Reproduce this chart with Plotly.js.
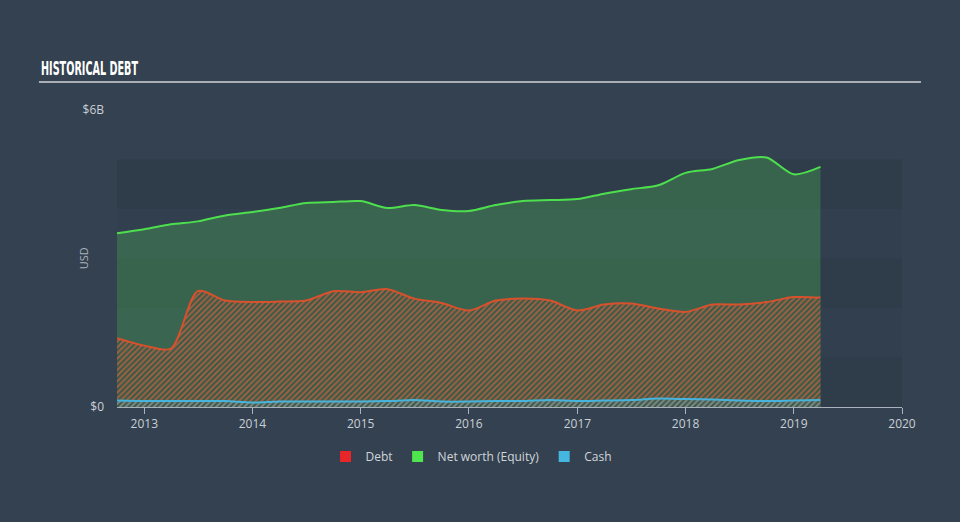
<!DOCTYPE html>
<html>
<head>
<meta charset="utf-8">
<script src="https://cdn.plot.ly/plotly-3.0.1.min.js"></script>
<style>
html,body{margin:0;padding:0;background:#344150;}
#chart{width:960px;height:522px;}
</style>
</head>
<body>
<div id="chart"></div>
<script>
const dates = ['2012-10-01','2013-01-01','2013-04-01','2013-07-01','2013-10-01',
  '2014-01-01','2014-04-01','2014-07-01','2014-10-01',
  '2015-01-01','2015-04-01','2015-07-01','2015-10-01',
  '2016-01-01','2016-04-01','2016-07-01','2016-10-01',
  '2017-01-01','2017-04-01','2017-07-01','2017-10-01',
  '2018-01-01','2018-04-01','2018-07-01','2018-10-01',
  '2019-01-01','2019-04-01'];
// values in billions USD
const equity = [3.51,3.59,3.69,3.75,3.87,3.94,4.02,4.12,4.14,4.16,4.02,4.08,3.98,3.96,4.08,4.16,4.18,4.20,4.31,4.40,4.48,4.73,4.81,4.99,5.04,4.70,4.85];
const debt   = [1.39,1.24,1.18,2.34,2.15,2.12,2.13,2.15,2.34,2.32,2.38,2.19,2.10,1.95,2.15,2.19,2.15,1.95,2.07,2.09,1.99,1.92,2.07,2.07,2.12,2.22,2.21];
const cash   = [0.13,0.12,0.12,0.12,0.12,0.09,0.11,0.11,0.11,0.11,0.12,0.14,0.11,0.11,0.12,0.12,0.14,0.12,0.13,0.14,0.17,0.16,0.15,0.13,0.12,0.13,0.14];
const yTickVals = [0, 6e9];
const yTickText = ['$0', '$6B'];
const seriesNames = ['Debt', 'Net worth (Equity)', 'Cash'];
const legendColors = ['#e8262a', '#4ee54e', '#45b6df'];

const B = v => v.map(x => x * 1e9);

const traces = [
  {x: dates, y: B(equity), type:'scatter', mode:'lines', fill:'tozeroy',
   fillcolor:'rgba(65,140,81,0.5)', line:{color:'#4ddf4d', width:2, shape:'spline', smoothing:0.8},
   showlegend:false, hoverinfo:'skip'},
  {x: dates, y: B(debt), type:'scatter', mode:'lines', fill:'tozeroy',
   fillcolor:'rgba(0,0,0,0)',
   fillpattern:{shape:'/', fgcolor:'rgba(205,100,62,0.7)', bgcolor:'rgba(40,45,45,0.2)', size:4, solidity:0.5},
   line:{color:'#d9512c', width:2, shape:'spline', smoothing:0.8},
   showlegend:false, hoverinfo:'skip'},
  {x: dates, y: B(cash), type:'scatter', mode:'lines', fill:'tozeroy',
   fillcolor:'rgba(0,0,0,0)',
   fillpattern:{shape:'/', fgcolor:'rgba(70,180,220,0.45)', bgcolor:'rgba(0,0,0,0)', size:4, solidity:0.5},
   line:{color:'#46b4dc', width:2, shape:'spline', smoothing:0.8},
   showlegend:false, hoverinfo:'skip'}
];
seriesNames.forEach((n, i) => {
  traces.push({x:[null], y:[null], type:'scatter', mode:'markers', name:n,
    marker:{symbol:'square', size:11, color:legendColors[i]}, showlegend:true});
});

const shapes = [];
for (let i = 0; i < 5; i++) {
  shapes.push({type:'rect', xref:'paper', x0:0, x1:1, yref:'y', y0:i*1e9, y1:(i+1)*1e9,
    fillcolor: (i % 2 === 0) ? 'rgba(20,30,45,0.12)' : 'rgba(20,30,45,0.04)',
    line:{width:0}, layer:'below'});
}
shapes.push({type:'line', xref:'paper', yref:'paper', x0:-0.0994, x1:1.0242, y0:1.0944, y1:1.0944,
  line:{color:'#a9aeb4', width:2}});

const layout = {
  width:960, height:522,
  paper_bgcolor:'#344150', plot_bgcolor:'rgba(0,0,0,0)',
  margin:{l:117, r:58, t:110, b:115},
  font:{family:'"Open Sans", Lato, sans-serif', color:'#c9d0d7', size:12},
  xaxis:{type:'date', range:['2012-10-01','2020-01-01'], tick0:'2013-01-01', dtick:'M12',
    tickformat:'%Y', ticks:'outside', ticklen:6, tickcolor:'#a9b2bc',
    showline:true, linecolor:'#a9b2bc', linewidth:1, showgrid:false, zeroline:false,
    tickfont:{size:12, color:'#c9d0d7'}, fixedrange:true},
  yaxis:{range:[0,6e9], tickmode:'array', tickvals:yTickVals, ticktext:yTickText,
    showgrid:false, zeroline:false, showline:false, ticks:'', ticklabelstandoff:12,
    tickfont:{size:12, color:'#c9d0d7'}, fixedrange:true},
  legend:{orientation:'h', x:0.451, xanchor:'center', y:-0.167, yanchor:'middle',
    font:{size:12, color:'#d0d5da'}, bgcolor:'rgba(0,0,0,0)', itemclick:false},
  shapes: shapes,
  annotations:[
    {text:'<b>HISTORICAL DEBT</b>', xref:'paper', yref:'paper', x:-0.0994, y:1.1417,
     xanchor:'left', yanchor:'middle', showarrow:false,
     font:{family:'"DejaVu Sans Condensed", "Liberation Sans Narrow", sans-serif', size:19, color:'#ffffff'}},
    {text:'USD', xref:'paper', yref:'paper', x:-0.0433, y:0.5008, textangle:-90,
     xanchor:'center', yanchor:'middle', showarrow:false, font:{size:11, color:'#aab3bd'}}
  ],
  hovermode:false
};
Plotly.newPlot('chart', traces, layout, {displayModeBar:false, staticPlot:true}).then(gd => {
  const texts = gd.querySelectorAll('.annotation-text');
  texts.forEach(t => {
    if (t.textContent === 'HISTORICAL DEBT') {
      const box = t.getBBox();
      t.setAttribute('textLength', '97');
      t.setAttribute('lengthAdjust', 'spacingAndGlyphs');
      t.setAttribute('text-anchor', 'start');
      t.setAttribute('x', String(box.x));
    }
  });
});
</script>
</body>
</html>
